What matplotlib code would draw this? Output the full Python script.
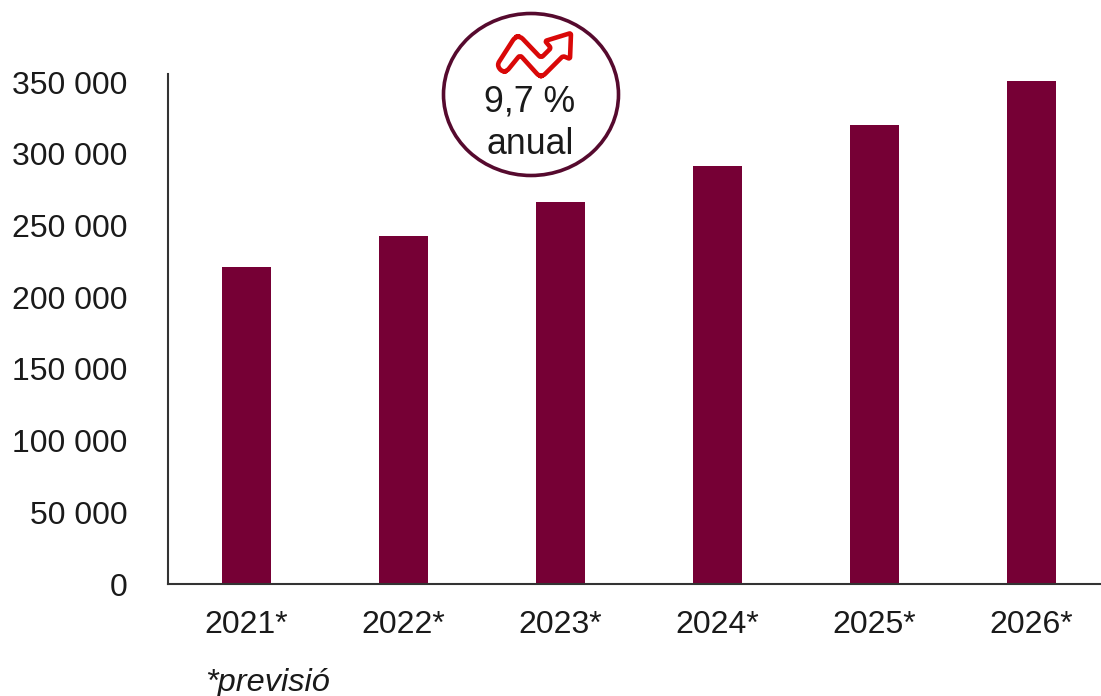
import matplotlib
matplotlib.use("Agg")
import matplotlib.pyplot as plt
from matplotlib.patches import Ellipse, PathPatch
from matplotlib.path import Path
from matplotlib.transforms import Affine2D

W, H = 1101, 696

years = ["2021*", "2022*", "2023*", "2024*", "2025*", "2026*"]
values = [221000, 242500, 266000, 291500, 320000, 350500]
y_ticks = [0, 50000, 100000, 150000, 200000, 250000, 300000, 350000]
note = "*previsió"
badge_lines = ["9,7 %", "anual"]

BAR = "#760035"
RING = "#560A2E"
ICON = "#D90808"
TEXT = "#1A1A1A"
AXIS = "#333333"

plt.rcParams["font.family"] = ["Liberation Sans", "DejaVu Sans"]


def rounded_outline(points, radius):
    """Closed path through points with each corner eased by a quadratic curve."""
    verts, codes = [], []
    n = len(points)
    for i, (p, r) in enumerate(zip(points, radius)):
        a = points[i - 1]
        b = points[(i + 1) % n]
        da = ((a[0] - p[0]) ** 2 + (a[1] - p[1]) ** 2) ** 0.5
        db = ((b[0] - p[0]) ** 2 + (b[1] - p[1]) ** 2) ** 0.5
        start = (p[0] + (a[0] - p[0]) * r / da, p[1] + (a[1] - p[1]) * r / da)
        end = (p[0] + (b[0] - p[0]) * r / db, p[1] + (b[1] - p[1]) * r / db)
        verts.append(start)
        codes.append(Path.MOVETO if i == 0 else Path.LINETO)
        verts += [p, end]
        codes += [Path.CURVE3, Path.CURVE3]
    verts.append(verts[0])
    codes.append(Path.CLOSEPOLY)
    return Path(verts, codes)


fig = plt.figure(figsize=(W / 100, H / 100), dpi=100)
L, R, T, B = 168, 1101, 74, 584
ax = fig.add_axes([L / W, 1 - B / H, (R - L) / W, (B - T) / H])

xpos = list(range(len(years)))
ax.bar(xpos, values, width=49 / 157, color=BAR)
ax.set_xlim(-0.5, -0.5 + (R - L) / 157)
ax.set_ylim(0, (B - T) * 350000 / 502)

ax.set_xticks(xpos, years, fontsize=23, color=TEXT)
ax.set_yticks(y_ticks, [f"{v:,}".replace(",", " ") for v in y_ticks], fontsize=23, color=TEXT)
ax.tick_params(axis="x", length=0, pad=18.5)
ax.tick_params(axis="y", length=0, pad=29)
for s in ("top", "right"):
    ax.spines[s].set_visible(False)
for s in ("left", "bottom"):
    ax.spines[s].set_color(AXIS)
    ax.spines[s].set_linewidth(1.5)

fig.text(205 / W, 1 - 683 / H, note, fontsize=23.4, style="italic", color=TEXT, va="center", ha="left")

# Overlay layer in pixel coordinates, y pointing down
px = Affine2D().scale(1 / W, -1 / H).translate(0, 1) + fig.transFigure

fig.add_artist(Ellipse((531, 94.5), 175, 162, transform=px, fc="white", ec=RING, lw=2.6, zorder=5))

arrow = [(497, 65), (502, 72), (507, 71), (520, 55), (539, 76), (543, 76), (563, 56),
         (570, 59), (571, 33), (545, 41), (551, 48), (541, 58), (520, 36), (515, 37)]
corner = [4, 4, 3, 3, 3, 3, 2, 2, 2, 2, 2, 3, 4, 4]
fig.add_artist(PathPatch(rounded_outline(arrow, corner), transform=px, fc="white", ec=ICON,
                         lw=3.3, joinstyle="round", zorder=6))

fig.text(530 / W, 1 - 102 / H, badge_lines[0], fontsize=25.7, color=TEXT, ha="center", va="center", zorder=7)
fig.text(530 / W, 1 - 145 / H, badge_lines[1], fontsize=25.7, color=TEXT, ha="center", va="center", zorder=7)

fig.savefig("out.png", dpi=100)
